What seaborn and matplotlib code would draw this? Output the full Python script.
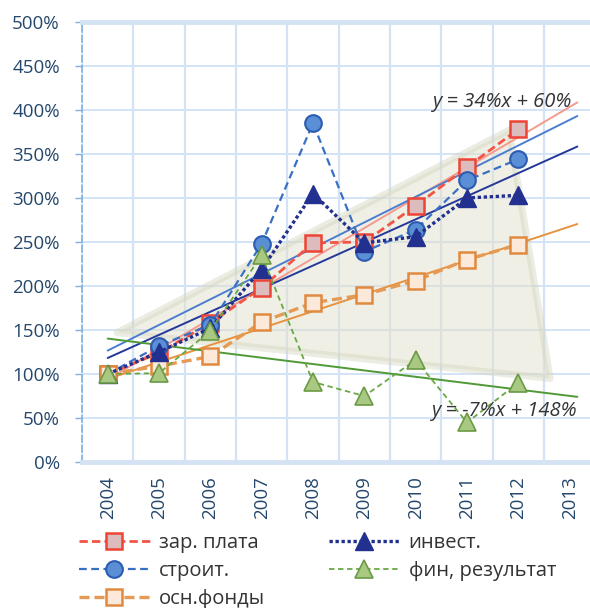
import numpy as np
import matplotlib
matplotlib.use("Agg")
import matplotlib.pyplot as plt
from matplotlib.lines import Line2D
import seaborn as sns

years = ["2004", "2005", "2006", "2007", "2008", "2009", "2010", "2011", "2012", "2013"]
zarplata = [100, 124, 158, 198, 249, 250, 291, 335, 378]
stroit = [100, 132, 156, 248, 385, 239, 264, 320, 344]
invest = [100, 125, 152, 219, 305, 249, 256, 300, 303]
finres = [100, 101, 149, 235, 91, 75, 116, 45, 90]
osnfond = [100, 109, 120, 159, 181, 190, 206, 230, 247]

# светлый треугольник-выделение (в координатах данных)
shade_x = [0.18, 7.82, 8.62]
shade_y = [147, 377, 95]

sns.set_theme(style="white")
plt.rcParams['font.family'] = ['Open Sans', 'DejaVu Sans']

tick_col = '#24476b'
grid_col = '#d3e3f5'

fig = plt.figure(figsize=(5.9, 6.08), dpi=100)
ax = fig.add_axes([0.139, 0.240, 0.87, 0.724])

x = np.arange(len(zarplata))

# выделение
ax.fill(shade_x, shade_y, facecolor='#e2e0cc', alpha=0.5, edgecolor='none', zorder=1)
ax.fill(shade_x, shade_y, facecolor='none', edgecolor='#d4d5c0', alpha=0.45, linewidth=5,
        joinstyle='round', zorder=1)

series = [
    (zarplata, 'зар. плата', dict(color='#f25545', linestyle=(0, (3, 1.5)), linewidth=2.0,
                                  marker='s', markersize=11, markerfacecolor='#dcbcbc',
                                  markeredgecolor='#ee4435', markeredgewidth=1.8)),
    (stroit, 'строит.', dict(color='#3a70c4', linestyle=(0, (3.5, 2)), linewidth=1.6,
                             marker='o', markersize=12, markerfacecolor='#5a8fd6',
                             markeredgecolor='#2c5cb2', markeredgewidth=1.5)),
    (osnfond, 'осн.фонды', dict(color='#e59a55', linestyle=(0, (3, 1.5)), linewidth=2.4,
                                marker='s', markersize=11, markerfacecolor='#fde9da',
                                markeredgecolor='#e08a40', markeredgewidth=1.8)),
    (invest, 'инвест.', dict(color='#22308f', linestyle=(0, (1, 0.8)), linewidth=2.4,
                             marker='^', markersize=13, markerfacecolor='#22308f',
                             markeredgecolor='#22308f', markeredgewidth=1)),
    (finres, 'фин, результат', dict(color='#6aa843', linestyle=(0, (3, 2)), linewidth=1.3,
                                    marker='^', markersize=13, markerfacecolor='#a9c983',
                                    markeredgecolor='#6b9a44', markeredgewidth=1.2)),
]

trend_cols = {'зар. плата': '#f59a8e', 'строит.': '#4a7fd0', 'осн.фонды': '#e8923e',
              'инвест.': '#24389a', 'фин, результат': '#4f9a35'}

# линии тренда (линейная аппроксимация, прогноз на 1 период вперёд)
xt = np.array([0, 9.15])
for vals, name, st in series:
    k, b = np.polyfit(x, vals, 1)
    sns.lineplot(x=xt, y=k * xt + b, color=trend_cols[name], linewidth=1.4, ax=ax, zorder=2)

handles = []
for vals, name, st in series:
    sns.lineplot(x=x, y=vals, ax=ax, zorder=3, **st)
    handles.append(Line2D([], [], label=name, **st))

ax.text(9.05, 409, 'y = 34%x + 60%', ha='right', va='center', fontsize=14.5,
        style='italic', color='#333333', zorder=5)
ax.text(9.15, 58, 'y = -7%x + 148%', ha='right', va='center', fontsize=14.5,
        style='italic', color='#333333', zorder=5)

ax.set_xlim(-0.5, 9.5)
ax.set_ylim(0, 500)
ax.set_xticks(range(len(years)))
ax.set_xticklabels(years, rotation=90)
ax.set_xticks(np.arange(-0.5, 10, 1), minor=True)
ax.set_yticks(range(0, 501, 50))
ax.set_yticklabels([f'{v}%' for v in range(0, 501, 50)])
ax.tick_params(axis='x', which='major', length=0, labelsize=13.5, labelcolor=tick_col, pad=10)
ax.tick_params(axis='x', which='minor', length=6, color=grid_col, width=1.2)
ax.tick_params(axis='y', which='major', length=5, color='#7fb0e0', width=1,
               labelsize=13.5, labelcolor=tick_col, pad=11, left=True)
ax.grid(False)
ax.grid(True, axis='y', which='major', color=grid_col, linewidth=1.4)
ax.grid(True, axis='x', which='minor', color=grid_col, linewidth=1.6)
ax.set_axisbelow(True)

ax.spines['left'].set_color('#7fb0e0')
ax.spines['left'].set_linestyle((0, (4, 2)))
ax.spines['left'].set_linewidth(1.2)
ax.spines['bottom'].set_color('#d3e3f4')
ax.spines['bottom'].set_linewidth(3.5)
ax.spines['top'].set_color('#d3e3f4')
ax.spines['top'].set_linewidth(3.5)
ax.spines['right'].set_visible(False)

leg = fig.legend(handles=handles, ncol=2, loc='upper left', bbox_to_anchor=(0.134, 0.123),
                 frameon=False, fontsize=14.5, handlelength=3.5, handletextpad=0.45,
                 columnspacing=3.2, labelspacing=0.4, numpoints=1,
                 borderaxespad=0, borderpad=0)
for t in leg.get_texts():
    t.set_color('#333333')

fig.savefig('out.png', dpi=100)
